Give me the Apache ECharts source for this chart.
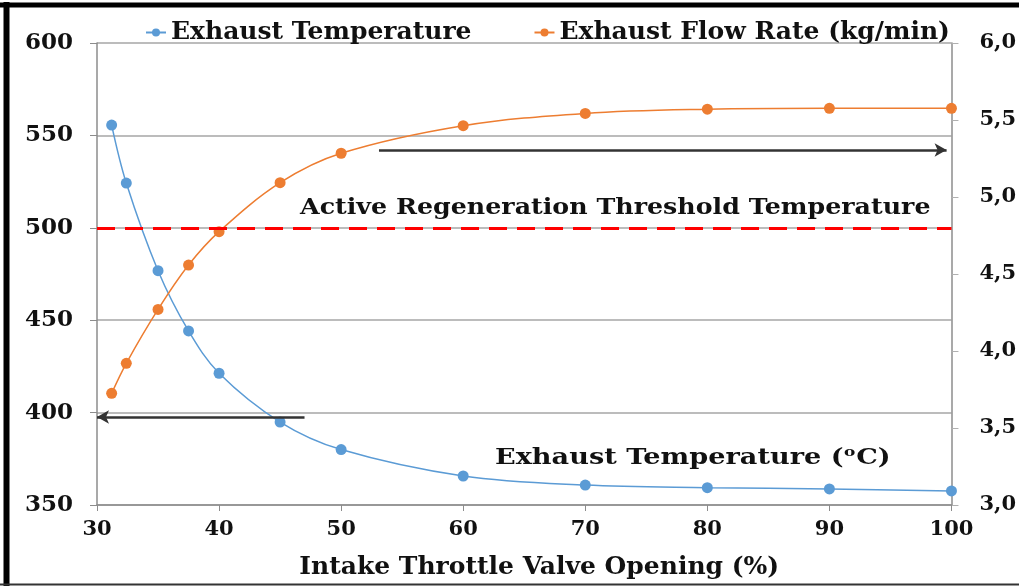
<!DOCTYPE html>
<html>
<head>
<meta charset="utf-8">
<script src="https://cdn.jsdelivr.net/npm/echarts@6/dist/echarts.min.js"></script>
<style>
html,body{margin:0;padding:0;background:#fff;}
#chart{width:1019px;height:586px;}
</style>
</head>
<body>
<div id="chart"></div>
<script>
// Data
var throttle = [31.2, 32.4, 35, 37.5, 40, 45, 50, 60, 70, 80, 90, 100];
var exhaustTemp = [555.6, 524.2, 476.8, 444.2, 421.3, 394.9, 380.0, 365.7, 360.8, 359.4, 358.7, 357.6];
var exhaustFlow = [3.725, 3.92, 4.27, 4.558, 4.775, 5.093, 5.284, 5.463, 5.543, 5.57, 5.576, 5.576];
var seriesNames = ['Exhaust Temperature', 'Exhaust Flow Rate (kg/min)'];
var thresholdTemp = 500;
var xTitle = 'Intake Throttle Valve Opening (%)';
var thresholdLabel = 'Active Regeneration Threshold Temperature';
var tempLabel = 'Exhaust Temperature (\u1d52C)';
// arrow annotations (data space)
var flowArrow = [[53.1, 5.305], [99.6, 5.305]];
var tempArrow = [[47.0, 397.6], [30.0, 397.6]];

var FONT = 'DejaVu Serif';
var chart = echarts.init(document.getElementById('chart'), null, {renderer: 'canvas'});

function pairs(xs, ys) { return xs.map(function (x, i) { return [x, ys[i]]; }); }

var option = {
  animation: false,
  backgroundColor: '#fff',
  grid: {left: 97, right: 64, top: 43, bottom: 81},
  legend: {
    top: 15, left: 140,
    itemGap: 62, itemWidth: 20, itemHeight: 10,
    textStyle: {fontFamily: FONT, fontWeight: 'bold', fontSize: 25, color: '#111'},
    data: seriesNames
  },
  xAxis: {
    type: 'value', min: 30, max: 100, interval: 10,
    name: xTitle, nameLocation: 'middle', nameGap: 50,
    nameTextStyle: {fontFamily: FONT, fontWeight: 'bold', fontSize: 25, color: '#111', padding: [0, 0, 0, 30]},
    axisLine: {lineStyle: {color: '#8c8c8c', width: 1.5}},
    axisTick: {show: true, length: 6, lineStyle: {color: '#8c8c8c'}},
    axisLabel: {fontFamily: FONT, fontWeight: 'bold', fontSize: 21, color: '#111', margin: 14},
    splitLine: {show: false}
  },
  yAxis: [{
    type: 'value', min: 350, max: 600, interval: 50,
    axisLine: {show: true, lineStyle: {color: '#8c8c8c', width: 1.5}},
    axisTick: {show: true, length: 7, lineStyle: {color: '#8c8c8c'}},
    axisLabel: {fontFamily: FONT, fontWeight: 'bold', fontSize: 23, color: '#111', margin: 24},
    splitLine: {show: true, lineStyle: {color: '#a6a6a6', width: 1.5}}
  }, {
    type: 'value', min: 3, max: 6, interval: 0.5, position: 'right',
    axisLine: {show: true, lineStyle: {color: '#8c8c8c', width: 1.5}},
    axisTick: {show: true, length: 7, lineStyle: {color: '#b0b0b0'}},
    axisLabel: {fontFamily: FONT, fontWeight: 'bold', fontSize: 21, color: '#111', margin: 28,
      formatter: function (v) { return v.toFixed(1).replace('.', ','); }},
    splitLine: {show: false}
  }],
  series: [{
    name: seriesNames[0], type: 'line', yAxisIndex: 0, smooth: 0.35,
    data: pairs(throttle, exhaustTemp),
    symbol: 'circle', symbolSize: 11,
    itemStyle: {color: '#5b9bd5'},
    lineStyle: {color: '#5b9bd5', width: 1.5},
    z: 3,
    markLine: {
      silent: true, animation: false,
      symbol: ['none', 'none'],
      label: {show: false},
      data: [
        {yAxis: thresholdTemp, lineStyle: {color: '#ff0000', width: 3, type: [18, 10]}},
        [{coord: tempArrow[0], symbol: 'none', lineStyle: {color: '#333', width: 2.5, type: 'solid'}},
         {coord: tempArrow[1], symbol: 'arrow', symbolSize: [10, 12]}]
      ]
    }
  }, {
    name: seriesNames[1], type: 'line', yAxisIndex: 1, smooth: 0.35,
    data: pairs(throttle, exhaustFlow),
    symbol: 'circle', symbolSize: 11,
    itemStyle: {color: '#ed7d31'},
    lineStyle: {color: '#ed7d31', width: 1.5},
    z: 3,
    markLine: {
      silent: true, animation: false,
      symbol: ['none', 'none'],
      label: {show: false},
      lineStyle: {color: '#333', width: 2.5, type: 'solid'},
      data: [
        [{coord: flowArrow[0], symbol: 'none'}, {coord: flowArrow[1], symbol: 'arrow', symbolSize: [10, 12]}]
      ]
    }
  }],
  graphic: [
    {type: 'text', x: 300, y: 197, z: 10, scaleX: 1.1,
      style: {text: thresholdLabel, font: 'bold 23px "' + FONT + '"', fill: '#111'}},
    {type: 'text', x: 495, y: 447, z: 10, scaleX: 1.18,
      style: {text: tempLabel, font: 'bold 23px "' + FONT + '"', fill: '#111'}},
    {type: 'line', z: 20, silent: true, shape: {x1: 6.5, y1: 2, x2: 6.5, y2: 586}, style: {stroke: '#000', lineWidth: 6}},
    {type: 'line', z: 20, silent: true, shape: {x1: 0, y1: 5, x2: 1019, y2: 5}, style: {stroke: '#000', lineWidth: 5}},
    {type: 'line', z: 20, silent: true, shape: {x1: 0, y1: 584.5, x2: 1019, y2: 584.5}, style: {stroke: '#333', lineWidth: 2}}
  ]
};
chart.setOption(option);
</script>
</body>
</html>
